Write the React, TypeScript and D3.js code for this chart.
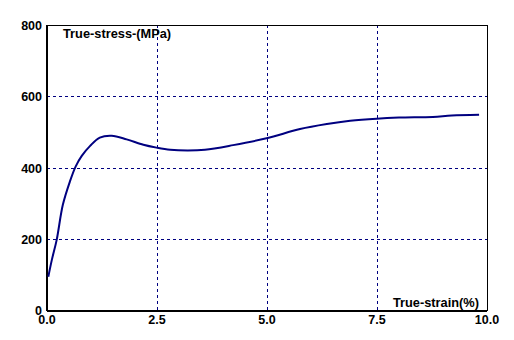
import React from "react";
import * as d3 from "d3";

const strain = [0.03, 0.11, 0.22, 0.36, 0.52, 0.65, 0.79, 0.98, 1.2, 1.47, 1.81, 2.19, 2.49, 2.8, 3.2, 3.59, 4.23, 4.99, 5.75, 6.36, 6.89, 7.49, 8.0, 8.77, 9.2, 9.82];
const stress = [96, 143, 199, 297, 362, 404, 434, 462, 485, 490, 480, 465, 457, 451, 449, 451, 464, 483, 509, 523, 532, 538, 541, 543, 547, 549];
const xTicks = [0, 2.5, 5, 7.5, 10];
const yTicks = [0, 200, 400, 600, 800];
const xTitle = "True-strain(%)";
const yTitle = "True-stress-(MPa)";

export default function App() {
  const W = 514, H = 340;
  const left = 47, right = 487, top = 25, bottom = 311;
  const x = d3.scaleLinear().domain([0, 10]).range([left, right]);
  const y = d3.scaleLinear().domain([0, 800]).range([bottom, top]);
  const pts: [number, number][] = strain.map((s, i) => [s, stress[i]]);
  const line = d3.line<[number, number]>().x(d => x(d[0])).y(d => y(d[1])).curve(d3.curveCatmullRom.alpha(0.5));
  const font = "'Liberation Sans', Arial, sans-serif";
  const navy = "#000080";
  return (
    <svg width={W} height={H} style={{ position: "absolute", left: 0, top: 0, background: "#fff" }} fontFamily={font}>
      <rect x={0} y={0} width={W} height={H} fill="#fff" />
      {xTicks.slice(1, -1).map(t => (
        <line key={"gx" + t} x1={x(t)} x2={x(t)} y1={top} y2={bottom} stroke={navy} strokeWidth={1} strokeDasharray="3,3" shapeRendering="crispEdges" />
      ))}
      {yTicks.slice(1, -1).map(t => (
        <line key={"gy" + t} x1={left} x2={right} y1={y(t)} y2={y(t)} stroke={navy} strokeWidth={1} strokeDasharray="3,3" shapeRendering="crispEdges" />
      ))}
      <line x1={left} x2={right} y1={top} y2={top} stroke="#000" strokeWidth={1} shapeRendering="crispEdges" />
      <line x1={right} x2={right} y1={top} y2={bottom} stroke="#000" strokeWidth={1} shapeRendering="crispEdges" />
      <line x1={left} x2={left} y1={top} y2={bottom} stroke="#000" strokeWidth={1.5} shapeRendering="crispEdges" />
      <line x1={left} x2={right} y1={bottom} y2={bottom} stroke="#000" strokeWidth={1.5} shapeRendering="crispEdges" />
      <path d={line(pts) || ""} fill="none" stroke={navy} strokeWidth={2} />
      {yTicks.map(t => (
        <text key={"ty" + t} x={42} y={y(t) + (t === 0 ? 3.5 : 4.5)} textAnchor="end" fontSize={12.5} fontWeight="bold" fill="#000">{t}</text>
      ))}
      {xTicks.map(t => (
        <text key={"tx" + t} x={x(t)} y={324} textAnchor="middle" fontSize={12.5} fontWeight="bold" fill="#000">{t.toFixed(1)}</text>
      ))}
      <text x={63} y={38} fontSize={12.8} fontWeight="bold" fill="#000">{yTitle}</text>
      <text x={479} y={307} textAnchor="end" fontSize={12.8} fontWeight="bold" fill="#000">{xTitle}</text>
    </svg>
  );
}
